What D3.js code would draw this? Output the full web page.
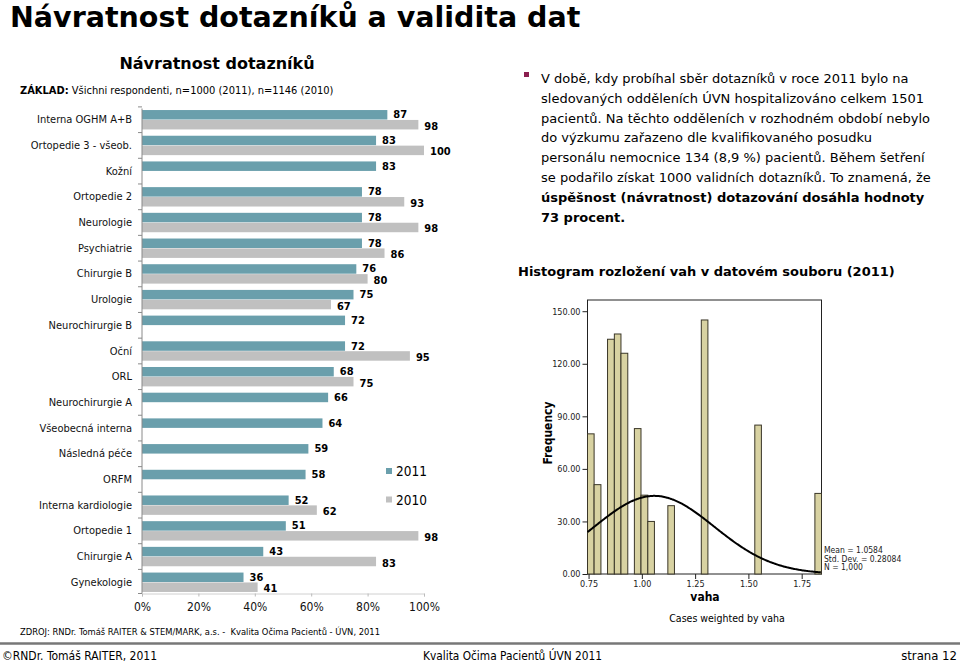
<!DOCTYPE html>
<html><head><meta charset="utf-8">
<script src="https://cdn.jsdelivr.net/npm/d3@7"></script>
<style>
html,body{margin:0;padding:0;background:#fff;}
svg text{font-family:"DejaVu Sans Condensed","DejaVu Sans",sans-serif;}
svg text.wide{font-family:"DejaVu Sans",sans-serif;}
</style>
</head><body>
<svg id="c" width="960" height="663"></svg>
<script>
// ---- Bar chart data ----
const categories = ["Interna OGHM A+B","Ortopedie 3 - všeob.","Kožní","Ortopedie 2","Neurologie","Psychiatrie","Chirurgie B","Urologie","Neurochirurgie B","Oční","ORL","Neurochirurgie A","Všeobecná interna","Následná péče","ORFM","Interna kardiologie","Ortopedie 1","Chirurgie A","Gynekologie"];
const values2011 = [87,83,83,78,78,78,76,75,72,72,68,66,64,59,58,52,51,43,36];
const values2010 = [98,100,null,93,98,86,80,67,null,95,75,null,null,null,null,62,98,83,41];
const years = ["2011","2010"];
const xTicks = [0,20,40,60,80,100];

// ---- Histogram data ----
const binLower = [0.745,0.776,0.839,0.871,0.902,0.965,0.996,1.028,1.122,1.279,1.530,1.812];
const binUpper = [0.776,0.808,0.871,0.902,0.934,0.996,1.028,1.059,1.153,1.310,1.561,1.843];
const binCount = [80,51,134,137,126,83,45,30,39,145,85,46];
const histYTicks = [0,30,60,90,120,150];
const histXTicks = [0.75,1.00,1.25,1.50,1.75];
const statMean = 1.0584, statSD = 0.28084, statN = 1000, binWidth = 0.0314;

const svg = d3.select("#c");
svg.append("rect").attr("width",960).attr("height",663).attr("fill","#fff");

// Main title
svg.append("text").attr("class","wide").attr("x",10).attr("y",27).attr("font-size",28.5).attr("font-weight","bold")
  .text("Návratnost dotazníků a validita dat");

// ---- Left bar chart ----
svg.append("text").attr("class","wide").attr("x",217).attr("y",69).attr("text-anchor","middle")
  .attr("font-size",16).attr("font-weight","bold").text("Návratnost dotazníků");
const zt = svg.append("text").attr("x",20).attr("y",94).attr("font-size",11);
zt.append("tspan").attr("font-weight","bold").text("ZÁKLAD:");
zt.append("tspan").text(" Všichni respondenti, n=1000 (2011), n=1146 (2010)");

const x = d3.scaleLinear().domain([0,100]).range([142,424]);
const y = d3.scaleBand().domain(categories).range([108.5,593.5]).paddingInner(0.245).paddingOuter(0.06);
const ySub = d3.scaleBand().domain(years).range([0,y.bandwidth()]).paddingInner(0.04);
const colors = {"2011":"#6a9fac","2010":"#c0c0c0"};

const rows = categories.map((c,i)=>({c, v:{"2011":values2011[i],"2010":values2010[i]}}));
const g = svg.append("g");
rows.forEach(r=>{
  years.forEach(yr=>{
    const v = r.v[yr];
    if(v==null) return;
    const y0 = y(r.c)+ySub(yr);
    g.append("rect").attr("x",x(0)).attr("y",y0).attr("width",x(v)-x(0)).attr("height",ySub.bandwidth())
      .attr("fill",colors[yr]);
    g.append("text").attr("x",x(v)+6).attr("y",y0+ySub.bandwidth()/2+(yr==="2011"?0:1.5))
      .attr("dominant-baseline","central").attr("font-size",11).attr("font-weight","bold").text(v);
  });
});
// y axis
const yAxisG = svg.append("g").attr("transform","translate(142,0)");
yAxisG.append("line").attr("x1",0).attr("x2",0).attr("y1",108.5).attr("y2",593.5).attr("stroke","#8a8a8a");
const bounds = categories.map(c=>y(c)-y.step()*y.paddingInner()/2).concat([593.5]);
yAxisG.selectAll("line.t").data(bounds).enter().append("line").attr("class","t")
  .attr("x1",-4).attr("x2",0).attr("y1",d=>d).attr("y2",d=>d).attr("stroke","#8a8a8a");
yAxisG.selectAll("text").data(categories).enter().append("text")
  .attr("x",-10).attr("y",d=>y(d)+y.bandwidth()/2).attr("dominant-baseline","central")
  .attr("text-anchor","end").attr("font-size",11).attr("fill","#111").text(d=>d);
// x axis
const xAxis = d3.axisBottom(x).tickValues(xTicks).tickFormat(d=>d+"%").tickSize(3).tickPadding(6);
const xg = svg.append("g").attr("transform","translate(0,593.5)").call(xAxis);
xg.select(".domain").attr("stroke","#d0d0d0");
xg.selectAll(".tick line").attr("stroke","#bbb");
xg.selectAll("text").attr("font-size",12).attr("font-family","DejaVu Sans Condensed, DejaVu Sans, sans-serif").attr("fill","#111");

// legend
years.forEach((yr,i)=>{
  const ly = 471 + i*28.5;
  svg.append("rect").attr("x",386).attr("y",ly-3).attr("width",6).attr("height",6).attr("fill",colors[yr]);
  svg.append("text").attr("x",396).attr("y",ly).attr("dominant-baseline","central").attr("font-size",13.5).text(yr);
});

svg.append("text").attr("x",20).attr("y",635).attr("font-size",9.3)
  .style("white-space","pre")
  .text("ZDROJ: RNDr. Tomáš RAITER & STEM/MARK, a.s. -  Kvalita Očima Pacientů - ÚVN, 2011");

// ---- Right text ----
svg.append("rect").attr("x",524).attr("y",72).attr("width",5).attr("height",5).attr("fill","#8b1e4f");
const lines = [
 [["V době, kdy probíhal sběr dotazníků v roce 2011 bylo na",false]],
 [["sledovaných odděleních ÚVN hospitalizováno celkem 1501",false]],
 [["pacientů. Na těchto odděleních v rozhodném období nebylo",false]],
 [["do výzkumu zařazeno dle kvalifikovaného posudku",false]],
 [["personálu nemocnice 134 (8,9 %) pacientů. Během šetření",false]],
 [["se podařilo získat 1000 validních dotazníků. To znamená, že",false]],
 [["úspěšnost (návratnost) dotazování dosáhla hodnoty",true]],
 [["73 procent.",true]]
];
lines.forEach((ln,i)=>{
  const t = svg.append("text").attr("class","wide").attr("x",541).attr("y",83+i*19.8).attr("font-size",13);
  ln.forEach(([s,b])=>t.append("tspan").attr("font-weight",b?"bold":"normal").text(s));
});

svg.append("text").attr("class","wide").attr("x",518).attr("y",276).attr("font-size",13).attr("font-weight","bold")
  .text("Histogram rozložení vah v datovém souboru (2011)");

// ---- Histogram ----
const hx = d3.scaleLinear().domain([0.745,1.843]).range([587.5,821.5]);
const hy = d3.scaleLinear().domain([0,156.4]).range([574,300]);
const hf = "Liberation Sans, Arial, sans-serif";
svg.append("rect").attr("x",hx(0.745)).attr("y",hy(156.4)).attr("width",hx(1.843)-hx(0.745)).attr("height",hy(0)-hy(156.4))
  .attr("fill","none").attr("stroke","#222").attr("stroke-width",1);
binCount.forEach((c,i)=>{
  svg.append("rect").attr("x",hx(binLower[i])).attr("y",hy(c)).attr("width",hx(binUpper[i])-hx(binLower[i])).attr("height",hy(0)-hy(c))
    .attr("fill","#d8d2a2").attr("stroke","#3a3628").attr("stroke-width",1);
});
const curvePts = d3.range(0.745,1.8431,0.005).map(v=>[v, statN*binWidth/(statSD*Math.sqrt(2*Math.PI))*Math.exp(-0.5*Math.pow((v-statMean)/statSD,2))]);
svg.append("path").attr("d",d3.line().x(d=>hx(d[0])).y(d=>hy(d[1])).curve(d3.curveBasis)(curvePts))
  .attr("fill","none").attr("stroke","#000").attr("stroke-width",2);
const hyAxis = d3.axisLeft(hy).tickValues(histYTicks).tickFormat(d3.format(".2f")).tickSize(5).tickPadding(2);
const hyg = svg.append("g").attr("transform",`translate(${hx(0.745)},0)`).call(hyAxis);
hyg.select(".domain").remove();
hyg.selectAll("text").attr("font-size",9).attr("font-family",hf).attr("fill","#222");
hyg.selectAll(".tick line").attr("stroke","#222");
const hxAxis = d3.axisBottom(hx).tickValues(histXTicks).tickFormat(d3.format(".2f")).tickSize(5).tickPadding(2);
const hxg = svg.append("g").attr("transform","translate(0,574)").call(hxAxis);
hxg.select(".domain").remove();
hxg.selectAll("text").attr("font-size",9).attr("font-family",hf).attr("fill","#222");
hxg.selectAll(".tick line").attr("stroke","#222");
svg.append("text").attr("transform","translate(552,433) rotate(-90)").attr("text-anchor","middle")
  .attr("font-size",12).attr("font-weight","bold").attr("font-family",hf).text("Frequency");
svg.append("text").attr("x",705).attr("y",601).attr("text-anchor","middle")
  .attr("font-size",12).attr("font-weight","bold").attr("font-family",hf).text("vaha");
svg.append("text").attr("x",727).attr("y",622).attr("text-anchor","middle")
  .attr("font-size",10.5).attr("font-family",hf).text("Cases weighted by vaha");
["Mean = 1.0584","Std. Dev. = 0.28084","N = 1,000"].forEach((s,i)=>{
  svg.append("text").attr("x",824).attr("y",553+i*8.6).attr("font-size",8.5).attr("font-family",hf).attr("fill","#222").text(s);
});

// ---- Footer ----
svg.append("line").attr("x1",0).attr("x2",960).attr("y1",643.5).attr("y2",643.5).attr("stroke","#777").attr("stroke-width",2.5);
svg.append("text").attr("x",2).attr("y",660).attr("font-size",12).text("©RNDr. Tomáš RAITER, 2011");
svg.append("text").attr("x",423).attr("y",660).attr("font-size",11.8).text("Kvalita Očima Pacientů ÚVN 2011");
svg.append("text").attr("x",957).attr("y",660).attr("text-anchor","end").attr("font-size",13).text("strana 12");
</script>
</body></html>
